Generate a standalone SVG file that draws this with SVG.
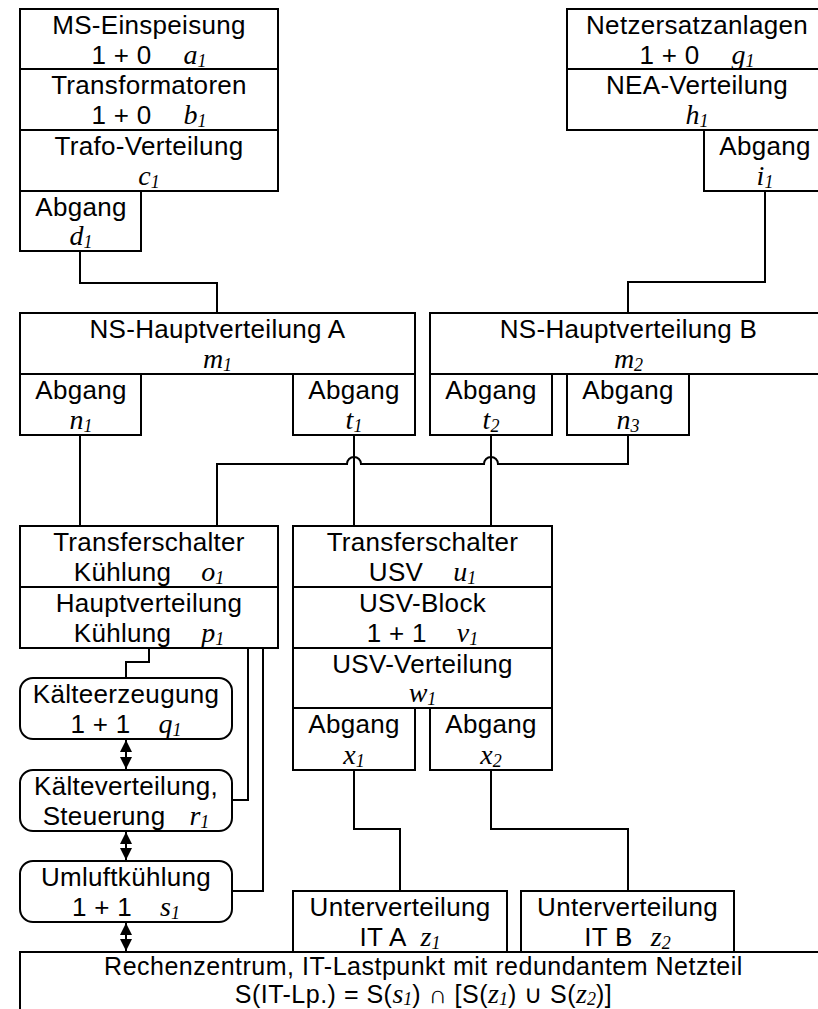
<svg xmlns="http://www.w3.org/2000/svg" width="818" height="1009" viewBox="0 0 818 1009">
<style>
  rect.b { fill: #fff; stroke: #000; stroke-width: 2; }
  .t { font-family: "Liberation Sans", Arial, sans-serif; font-size: 26px; letter-spacing: 0.3px; text-anchor: middle; fill: #000; }
  .rz { font-size: 25px; letter-spacing: 0.5px; }
  .v { font-family: "Liberation Serif", "Times New Roman", serif; font-style: italic; font-size: 28px; letter-spacing: 0; }
  .s { font-family: "Liberation Serif", "Times New Roman", serif; font-style: italic; font-size: 18px; letter-spacing: 0; }
  .c { fill: none; stroke: #000; stroke-width: 2; }
  .a { fill: none; stroke: #000; stroke-width: 2; marker-start: url(#ah); marker-end: url(#ah); }
</style>
<defs>
  <marker id="ah" viewBox="0 0 10 10" refX="10" refY="5" markerWidth="6" markerHeight="6.5" orient="auto-start-reverse" markerUnits="strokeWidth">
    <path d="M0,0 L10,5 L0,10 Z" fill="#000"/>
  </marker>
</defs>
<rect width="818" height="1009" fill="#fff"/>

<g id="connectors">
  <path class="c" d="M80,251 V283 H217 V313"/>
  <path class="c" d="M765,191 V282 H628 V313"/>
  <path class="c" d="M80,435 V526"/>
  <path class="c" d="M354,435 V526"/>
  <path class="c" d="M491,435 V526"/>
  <path class="c" d="M628,435 V464 H498 A7,7 0 0 0 484,464 H361 A7,7 0 0 0 347,464 H217 V526"/>
  <path class="c" d="M354,770 V829 H400 V891"/>
  <path class="c" d="M491,770 V829 H628 V891"/>
  <path class="c" d="M149,648 V662 H126 V678"/>
  <path class="c" d="M248,648 V800 H232"/>
  <path class="c" d="M263,648 V891 H232"/>
  <path class="a" d="M126,740 V769"/>
  <path class="a" d="M126,832 V860"/>
  <path class="a" d="M126,923 V951"/>
</g>

<g id="ms-einspeisung">
  <rect class="b" x="20" y="9" width="258" height="60"/>
  <text class="t" x="149" y="34">MS-Einspeisung</text>
  <text class="t" x="149" y="64">1 + 0<tspan class="v" dx="32">a</tspan><tspan class="s" dy="3">1</tspan></text>
</g>
<g id="transformatoren">
  <rect class="b" x="20" y="69" width="258" height="61"/>
  <text class="t" x="149" y="94">Transformatoren</text>
  <text class="t" x="149" y="124">1 + 0<tspan class="v" dx="32">b</tspan><tspan class="s" dy="3">1</tspan></text>
</g>
<g id="trafo-verteilung">
  <rect class="b" x="20" y="130" width="258" height="61"/>
  <text class="t" x="149" y="155">Trafo-Verteilung</text>
  <text class="t" x="149" y="185"><tspan class="v">c</tspan><tspan class="s" dy="3">1</tspan></text>
</g>
<g id="abgang-d1">
  <rect class="b" x="20" y="191" width="121" height="60"/>
  <text class="t" x="81" y="216">Abgang</text>
  <text class="t" x="81" y="245"><tspan class="v">d</tspan><tspan class="s" dy="3">1</tspan></text>
</g>

<g id="netzersatzanlagen">
  <rect class="b" x="567" y="9" width="260" height="60"/>
  <text class="t" x="697" y="34">Netzersatzanlagen</text>
  <text class="t" x="697" y="64">1 + 0<tspan class="v" dx="32">g</tspan><tspan class="s" dy="3">1</tspan></text>
</g>
<g id="nea-verteilung">
  <rect class="b" x="567" y="69" width="260" height="61"/>
  <text class="t" x="697" y="94">NEA-Verteilung</text>
  <text class="t" x="697" y="124"><tspan class="v">h</tspan><tspan class="s" dy="3">1</tspan></text>
</g>
<g id="abgang-i1">
  <rect class="b" x="704" y="130" width="123" height="61"/>
  <text class="t" x="765" y="155">Abgang</text>
  <text class="t" x="765" y="185"><tspan class="v">i</tspan><tspan class="s" dy="3">1</tspan></text>
</g>

<g id="ns-hv-a">
  <rect class="b" x="20" y="313" width="395" height="61"/>
  <text class="t" x="217.5" y="338">NS-Hauptverteilung A</text>
  <text class="t" x="217.5" y="368"><tspan class="v">m</tspan><tspan class="s" dy="3">1</tspan></text>
</g>
<g id="abgang-n1">
  <rect class="b" x="20" y="374" width="121" height="61"/>
  <text class="t" x="81" y="399">Abgang</text>
  <text class="t" x="81" y="429"><tspan class="v">n</tspan><tspan class="s" dy="3">1</tspan></text>
</g>
<g id="abgang-t1">
  <rect class="b" x="293" y="374" width="122" height="61"/>
  <text class="t" x="354" y="399">Abgang</text>
  <text class="t" x="354" y="429"><tspan class="v">t</tspan><tspan class="s" dy="3">1</tspan></text>
</g>

<g id="ns-hv-b">
  <rect class="b" x="430" y="313" width="397" height="61"/>
  <text class="t" x="628.5" y="338">NS-Hauptverteilung B</text>
  <text class="t" x="628.5" y="368"><tspan class="v">m</tspan><tspan class="s" dy="3">2</tspan></text>
</g>
<g id="abgang-t2">
  <rect class="b" x="430" y="374" width="122" height="61"/>
  <text class="t" x="491" y="399">Abgang</text>
  <text class="t" x="491" y="429"><tspan class="v">t</tspan><tspan class="s" dy="3">2</tspan></text>
</g>
<g id="abgang-n3">
  <rect class="b" x="567" y="374" width="122" height="61"/>
  <text class="t" x="628" y="399">Abgang</text>
  <text class="t" x="628" y="429"><tspan class="v">n</tspan><tspan class="s" dy="3">3</tspan></text>
</g>

<g id="ts-kuehlung">
  <rect class="b" x="20" y="526" width="258" height="61"/>
  <text class="t" x="149" y="551">Transferschalter</text>
  <text class="t" x="149" y="581">Kühlung<tspan class="v" dx="30">o</tspan><tspan class="s" dy="3">1</tspan></text>
</g>
<g id="hv-kuehlung">
  <rect class="b" x="20" y="587" width="258" height="61"/>
  <text class="t" x="149" y="612">Hauptverteilung</text>
  <text class="t" x="149" y="642">Kühlung<tspan class="v" dx="30">p</tspan><tspan class="s" dy="3">1</tspan></text>
</g>

<g id="ts-usv">
  <rect class="b" x="293" y="526" width="259" height="61"/>
  <text class="t" x="422.5" y="551">Transferschalter</text>
  <text class="t" x="422.5" y="581">USV<tspan class="v" dx="30">u</tspan><tspan class="s" dy="3">1</tspan></text>
</g>
<g id="usv-block">
  <rect class="b" x="293" y="587" width="259" height="61"/>
  <text class="t" x="422.5" y="612">USV-Block</text>
  <text class="t" x="422.5" y="642">1 + 1<tspan class="v" dx="30">v</tspan><tspan class="s" dy="3">1</tspan></text>
</g>
<g id="usv-verteilung">
  <rect class="b" x="293" y="648" width="259" height="60"/>
  <text class="t" x="422.5" y="673">USV-Verteilung</text>
  <text class="t" x="422.5" y="702"><tspan class="v">w</tspan><tspan class="s" dy="3">1</tspan></text>
</g>
<g id="abgang-x1">
  <rect class="b" x="293" y="708" width="122" height="62"/>
  <text class="t" x="354" y="733">Abgang</text>
  <text class="t" x="354" y="764"><tspan class="v">x</tspan><tspan class="s" dy="3">1</tspan></text>
</g>
<g id="abgang-x2">
  <rect class="b" x="430" y="708" width="122" height="62"/>
  <text class="t" x="491" y="733">Abgang</text>
  <text class="t" x="491" y="764"><tspan class="v">x</tspan><tspan class="s" dy="3">2</tspan></text>
</g>

<g id="kaelteerzeugung">
  <rect class="b" x="20" y="678" width="212" height="61" rx="13" ry="13"/>
  <text class="t" x="126" y="703">Kälteerzeugung</text>
  <text class="t" x="126" y="733">1 + 1<tspan class="v" dx="28">q</tspan><tspan class="s" dy="3">1</tspan></text>
</g>
<g id="kaelteverteilung">
  <rect class="b" x="20" y="770" width="212" height="61" rx="13" ry="13"/>
  <text class="t" x="126" y="795">Kälteverteilung,</text>
  <text class="t" x="126" y="825">Steuerung<tspan class="v" dx="24">r</tspan><tspan class="s" dy="3">1</tspan></text>
</g>
<g id="umluftkuehlung">
  <rect class="b" x="20" y="861" width="212" height="61" rx="13" ry="13"/>
  <text class="t" x="126" y="886">Umluftkühlung</text>
  <text class="t" x="126" y="916">1 + 1<tspan class="v" dx="28">s</tspan><tspan class="s" dy="3">1</tspan></text>
</g>

<g id="rechenzentrum">
  <rect class="b" x="20" y="952" width="807" height="70"/>
  <text class="t rz" x="423.5" y="975">Rechenzentrum, IT-Lastpunkt mit redundantem Netzteil</text>
  <text class="t rz" x="423.5" y="1003">S(IT-Lp.) = S(<tspan class="v">s</tspan><tspan class="s" dy="2">1</tspan><tspan dy="-2">) ∩ [S(</tspan><tspan class="v">z</tspan><tspan class="s" dy="2">1</tspan><tspan dy="-2">) ∪ S(</tspan><tspan class="v">z</tspan><tspan class="s" dy="2">2</tspan><tspan dy="-2">)]</tspan></text>
</g>

<g id="uv-it-a">
  <rect class="b" x="293" y="891" width="214" height="61"/>
  <text class="t" x="400" y="916">Unterverteilung</text>
  <text class="t" x="400" y="946">IT A<tspan class="v" dx="14">z</tspan><tspan class="s" dy="3">1</tspan></text>
</g>
<g id="uv-it-b">
  <rect class="b" x="521" y="891" width="213" height="61"/>
  <text class="t" x="627.5" y="916">Unterverteilung</text>
  <text class="t" x="627.5" y="946">IT B<tspan class="v" dx="18">z</tspan><tspan class="s" dy="3">2</tspan></text>
</g>
</svg>
